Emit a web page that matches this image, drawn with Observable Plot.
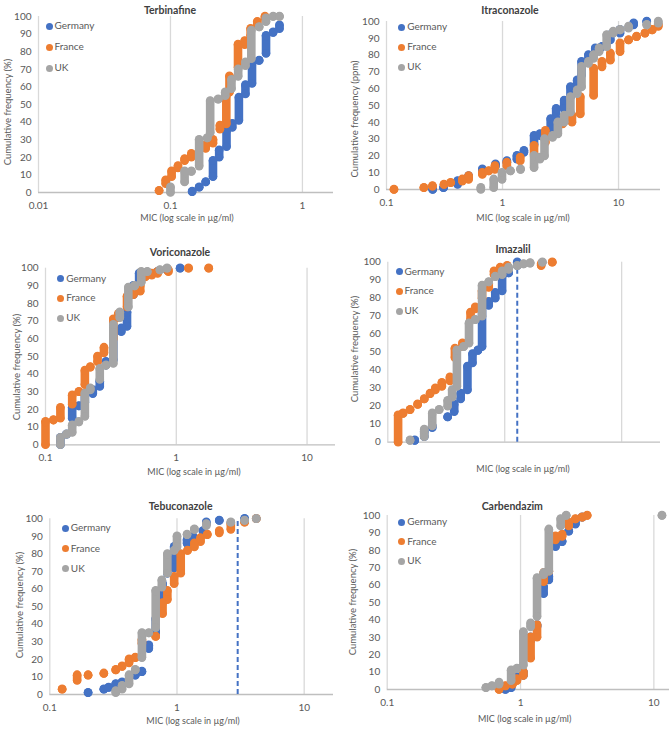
<!DOCTYPE html>
<html><head><meta charset="utf-8">
<script src="https://cdn.jsdelivr.net/npm/d3@7"></script>
<script src="https://cdn.jsdelivr.net/npm/@observablehq/plot@0.6"></script>
<style>
body{margin:0;background:#fff;}
#root{position:relative;width:669px;height:729px;overflow:hidden;font-family:Lato,"Open Sans",sans-serif;color:#595959;background:#fff;}
.t{position:absolute;white-space:nowrap;transform:translate(-50%,-50%);line-height:1;}
.title{font-weight:700;font-size:10.5px;color:#404040;}
.ax{font-size:9.5px;}
.xl{font-size:9px;}
.yl{transform:translate(-50%,-50%) rotate(-90deg);}
.leg{position:absolute;font-size:10px;line-height:1;white-space:nowrap;transform:translateY(-50%);}
.leg i{display:inline-block;width:7px;height:7px;border-radius:50%;margin-right:2px;vertical-align:-0.5px;}
.panel{position:absolute;}
</style></head><body><div id="root"></div>
<script>
// ---- data: [MIC, cumulative from, cumulative to] ----
const countries = ["Germany", "France", "UK"];
const yTicks = [0,10,20,30,40,50,60,70,80,90,100];

const terbinafineTicks = [0.01, 0.1, 1];
const terbinafineGermany = [[0.146,0.5,0.5],[0.165,3,3],[0.185,6,6],[0.21,9,18],[0.234,20,24],[0.266,26,35],[0.294,37,39],[0.33,41,54],[0.37,56,61],[0.415,62,73],[0.47,75,75],[0.53,79,89],[0.6,91,91],[0.67,93,95]];
const terbinafineFrance = [[0.082,1,1],[0.092,5,7],[0.102,9,12],[0.114,14,15],[0.128,18,19],[0.144,20,22],[0.185,25,27],[0.21,28,30],[0.237,36,38],[0.265,39,55],[0.28,57,66],[0.325,71,84],[0.365,84,86],[0.405,89,93],[0.455,95,97],[0.52,99,100]];
const terbinafineUK = [[0.1,0,3],[0.128,6,12],[0.144,12,12],[0.165,15,30],[0.19,31,31],[0.2,34,52],[0.23,53,53],[0.26,55,57],[0.29,59,64],[0.326,66,70],[0.37,72,74],[0.41,76,92],[0.47,94,94],[0.53,97,99],[0.6,100,100],[0.67,100,100]];

const itraconazoleTicks = [0.1, 1, 10];
const itraconazoleGermany = [[0.25,0,0],[0.31,1,1],[0.41,3,5],[0.51,7,8],[0.67,11,12],[0.87,14,15],[1.09,16,17],[1.33,18,20],[1.53,22,23],[1.87,27,32],[2.1,32,33],[2.6,36,42],[2.9,42,48],[3.4,48,53],[3.85,55,61],[4.4,61,65],[4.8,68,76],[5.5,77,80],[6.3,82,84],[7.2,85,85],[8.5,89,92],[10.3,93,95],[13.5,98,99],[17.5,100,100]];
const itraconazoleFrance = [[0.116,0,0],[0.21,1,1],[0.249,2,2],[0.313,3,3],[0.357,4,4],[0.45,5,6],[0.51,6,8],[0.67,9,10],[0.76,11,11],[0.86,12,14],[1.09,14,16],[1.42,17,19],[1.87,21,26],[2.34,28,35],[3.3,39,40],[3.97,40,44],[4.68,45,55],[6.1,56,72],[7.2,73,76],[8.5,77,81],[10.3,82,87],[12.2,89,89],[14.3,91,91],[16.9,93,93],[19.5,95,95],[22,97,98]];
const itraconazoleUK = [[0.65,0,1],[0.84,1,6],[0.99,6,10],[1.17,11,11],[1.43,12,12],[1.87,13,20],[2.1,18,19],[2.3,20,30],[2.7,31,32],[3.0,33,40],[3.4,40,44],[3.85,46,55],[4.4,57,59],[4.8,61,73],[5.5,75,76],[6.1,78,80],[6.8,82,84],[7.9,85,92],[9.0,93,94],[10.3,95,95],[12.2,96,97],[17.5,98,98],[22,99,100]];

const voriconazoleTicks = [0.1, 1, 10];
const voriconazoleGermany = [[0.13,0,4],[0.145,6,6],[0.16,15,21],[0.18,22,22],[0.2,24,29],[0.23,29,31],[0.26,33,36],[0.29,45,47],[0.33,48,66],[0.38,64,66],[0.42,67,75],[0.47,85,90],[0.52,92,97],[0.6,97,97],[0.72,98,98],[0.85,99,99],[1.07,100,100]];
const voriconazoleFrance = [[0.1,0,13],[0.115,14,14],[0.13,15,21],[0.16,23,28],[0.18,30,30],[0.2,34,42],[0.22,44,44],[0.25,47,50],[0.28,52,55],[0.33,60,71],[0.36,72,74],[0.42,78,84],[0.47,85,86],[0.53,87,90],[0.58,95,96],[0.65,96,97],[0.72,97,98],[0.87,98,99],[1.24,100,100],[1.77,100,100]];
const voriconazoleUK = [[0.13,0,4],[0.145,6,6],[0.16,7,11],[0.18,13,13],[0.2,16,29],[0.22,31,32],[0.26,37,43],[0.29,45,45],[0.33,46,68],[0.37,72,75],[0.43,78,89],[0.48,90,90],[0.54,92,98],[0.6,98,98],[0.75,99,99],[0.85,100,100]];

const imazalilTicks = [0.2, 2, 20];
const imazalilCutoff = [2.56];
const imazalilGermany = [[0.34,1,1],[0.41,3,6],[0.48,8,9],[0.65,14,14],[0.74,17,21],[0.84,24,27],[0.96,29,42],[1.06,44,49],[1.18,51,51],[1.28,53,75],[1.46,76,78],[1.66,80,83],[1.9,84,92],[2.16,94,94],[2.56,98,100]];
const imazalilFrance = [[0.245,0,15],[0.27,16,16],[0.31,18,18],[0.36,21,21],[0.41,24,24],[0.46,27,27],[0.51,29,30],[0.58,31,33],[0.68,34,36],[0.75,47,52],[0.87,53,55],[1.02,68,72],[1.12,74,75],[1.28,80,84],[1.46,86,88],[1.62,93,95],[1.83,96,97],[2.1,98,98],[4.1,98,99],[5.1,100,100]];
const imazalilUK = [[0.31,1,1],[0.41,3,7],[0.48,9,16],[0.55,18,18],[0.65,20,23],[0.71,25,29],[0.78,31,51],[0.89,53,53],[0.99,55,66],[1.12,68,68],[1.28,70,87],[1.46,89,89],[1.66,92,92],[1.9,93,95],[2.16,96,97],[2.56,98,98],[2.9,99,99],[3.3,99.5,99.5],[4.2,100,100]];

const tebuconazoleTicks = [0.1, 1, 10];
const tebuconazoleCutoff = [3];
const tebuconazoleGermany = [[0.2,1,1],[0.266,3,3],[0.29,4,4],[0.33,6,6],[0.37,7,7],[0.47,11,11],[0.53,13,13],[0.6,26,28],[0.68,35,43],[0.77,53,63],[0.84,69,69],[0.95,72,84],[1.2,86,88],[1.33,90,90],[1.6,93,93],[1.7,97,98],[2.15,99,99],[3.4,100,100]];
const tebuconazoleFrance = [[0.125,3,3],[0.164,8,11],[0.2,11,11],[0.266,12,12],[0.33,14,14],[0.37,16,16],[0.42,18,20],[0.47,21,21],[0.53,29,31],[0.68,33,33],[0.77,46,52],[0.84,54,59],[0.95,63,67],[1.07,69,80],[1.21,82,82],[1.37,84,86],[1.53,87,89],[1.73,91,91],[2.15,92,93],[2.65,94,97],[3.4,98,98],[4.2,100,100]];
const tebuconazoleUK = [[0.33,1,2],[0.37,3,5],[0.42,6,11],[0.47,14,14],[0.53,21,35],[0.6,35,35],[0.68,38,59],[0.76,61,65],[0.84,69,80],[0.95,82,82],[1.0,84,90],[1.2,91,91],[1.37,94,94],[1.7,96,97],[2.65,98,98],[3.4,99,99],[4.2,100,100]];

const carbendazimTicks = [0.1, 1, 10];
const carbendazimGermany = [[0.77,0,0],[0.85,1,1],[0.94,6,7],[1.05,8,10],[1.19,28,30],[1.33,36,37],[1.49,55,59],[1.63,63,65],[1.83,82,84],[2.05,85,85],[2.3,91,91],[2.58,95,96],[2.9,99,99]];
const carbendazimFrance = [[0.69,0,0],[0.77,2,2],[0.87,3,3],[0.94,5,6],[1.05,8,10],[1.19,18,30],[1.33,30,37],[1.49,62,67],[1.63,68,68],[1.83,86,88],[2.05,88,89],[2.3,94,96],[2.58,98,98],[2.9,99,99],[3.16,100,100]];
const carbendazimUK = [[0.55,1,1],[0.61,2,2],[0.69,3,4],[0.85,5,11],[0.94,12,12],[1.05,14,33],[1.19,36,38],[1.33,42,64],[1.49,66,67],[1.63,68,92],[2.0,94,98],[2.2,100,100],[11.5,100,100]];

// ---- layout ----
const colors = ["#4472C4", "#ED7D31", "#A5A5A5"];
const panels = [
  {name:"Terbinafine", ylab:"Cumulative frequency (%)", ticks:terbinafineTicks, domain:[0.01,1.72],
   series:[terbinafineGermany,terbinafineFrance,terbinafineUK], cutoff:null,
   box:[0,0,335,240], m:[16,2,48,38], title:[170,10], yl:[8,112], xl:[187,217], leg:[49,25,21]},
  {name:"Itraconazole", ylab:"Cumulative frequency (ppm)", ticks:itraconazoleTicks, domain:[0.1,23],
   series:[itraconazoleGermany,itraconazoleFrance,itraconazoleUK], cutoff:null,
   box:[335,0,334,240], m:[21,9,51,51], title:[510,10], yl:[355,119], xl:[523,217], leg:[401.7,26,20]},
  {name:"Voriconazole", ylab:"Cumulative frequency (%)", ticks:voriconazoleTicks, domain:[0.1,16.5],
   series:[voriconazoleGermany,voriconazoleFrance,voriconazoleUK], cutoff:null,
   box:[0,240,335,250], m:[27.7,0,45.7,45], title:[180,251.7], yl:[16.7,367], xl:[194,471], leg:[60.7,277.7,19.7]},
  {name:"Imazalil", ylab:"Cumulative frequency (%)", ticks:imazalilTicks, domain:[0.2,43],
   series:[imazalilGermany,imazalilFrance,imazalilUK], cutoff:imazalilCutoff,
   box:[335,240,334,250], m:[21.7,9,48.3,52.3], title:[513,249], yl:[355,349], xl:[523,467.7], leg:[399,270.7,19.7]},
  {name:"Tebuconazole", ylab:"Cumulative frequency (%)", ticks:tebuconazoleTicks, domain:[0.1,17],
   series:[tebuconazoleGermany,tebuconazoleFrance,tebuconazoleUK], cutoff:tebuconazoleCutoff,
   box:[0,490,335,239], m:[28.3,2,35,49.3], title:[180.7,505.7], yl:[20,605], xl:[193,720], leg:[65.3,527.3,20.3]},
  {name:"Carbendazim", ylab:"Cumulative frequency (%)", ticks:carbendazimTicks, domain:[0.1,13.1],
   series:[carbendazimGermany,carbendazimFrance,carbendazimUK], cutoff:null,
   box:[335,490,334,239], m:[25,0,40,51.7], title:[512.3,505.7], yl:[353.3,602], xl:[524.7,717.7], leg:[401.7,521,19.5]}
];

const root = document.getElementById("root");
function addText(txt, cls, x, y){
  const d = document.createElement("div");
  d.className = "t " + cls; d.textContent = txt;
  d.style.left = x + "px"; d.style.top = y + "px";
  root.appendChild(d);
}

panels.forEach(p => {
  const [bl, bt, bw, bh] = p.box;
  const [mt, mr, mb, ml] = p.m;
  const marks = [
    Plot.gridX(p.ticks, {stroke:"#d9d9d9", strokeOpacity:1, strokeWidth:1.3}),
    Plot.ruleY([0], {stroke:"#bfbfbf", strokeWidth:1.3}),
    Plot.axisX(p.ticks, {tickSize:0, tickPadding:9, tickFormat:d => String(d), label:null}),
    Plot.axisY(yTicks, {tickSize:0, tickPadding:7, tickFormat:d => String(d), label:null})
  ];
  if (p.cutoff) marks.push(Plot.ruleX(p.cutoff, {y1:0, y2:100, stroke:"#4472C4", strokeWidth:2, strokeDasharray:"5,3"}));
  p.series.forEach((s, i) => {
    marks.push(
      Plot.ruleX(s, {x:d => d[0], y1:d => d[1], y2:d => d[2], stroke:colors[i], strokeWidth:8.6, strokeLinecap:"round"}),
      Plot.dot(s, {x:d => d[0], y:d => d[1], r:4.3, fill:colors[i]}),
      Plot.dot(s, {x:d => d[0], y:d => d[2], r:4.3, fill:colors[i]})
    );
  });
  const svg = Plot.plot({
    width: bw, height: bh,
    marginTop: mt, marginRight: mr, marginBottom: mb, marginLeft: ml,
    x: {type:"log", domain:p.domain},
    y: {domain:[0,100]},
    style: {background:"transparent", fontFamily:"Lato, 'Open Sans', sans-serif", fontSize:"10px", color:"#595959", overflow:"visible"},
    marks
  });
  const wrap = document.createElement("div");
  wrap.className = "panel";
  wrap.style.left = bl + "px"; wrap.style.top = bt + "px";
  wrap.style.width = bw + "px"; wrap.style.height = bh + "px";
  wrap.appendChild(svg);
  root.appendChild(wrap);

  addText(p.name, "title", p.title[0], p.title[1]);
  addText(p.ylab, "ax yl", p.yl[0], p.yl[1]);
  addText("MIC (log scale in µg/ml)", "ax xl", p.xl[0], p.xl[1]);
  const [lx, ly, lstep] = p.leg;
  countries.forEach((c, i) => {
    const item = document.createElement("div");
    item.className = "leg";
    item.style.left = (lx - 3.5) + "px";
    item.style.top = (ly + i * lstep) + "px";
    const dot = document.createElement("i");
    dot.style.background = colors[i];
    item.appendChild(dot);
    item.appendChild(document.createTextNode(c));
    root.appendChild(item);
  });
});
</script>
</body></html>
